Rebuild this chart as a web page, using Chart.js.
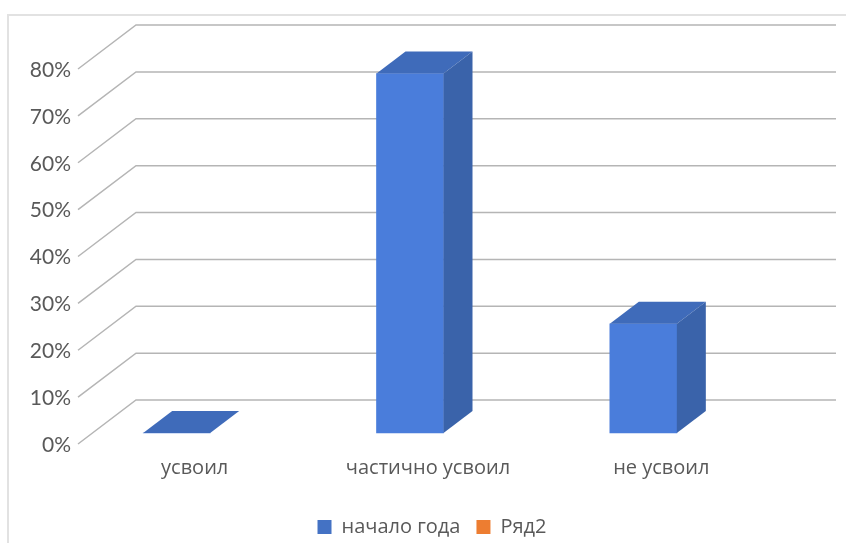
<!DOCTYPE html>
<html>
<head>
<meta charset="utf-8">
<title>Chart</title>
<script src="https://cdn.jsdelivr.net/npm/chart.js@4/dist/chart.umd.min.js"></script>
<style>
  html, body { margin: 0; padding: 0; background: #fff; }
  #wrap { position: relative; width: 846px; height: 543px; overflow: hidden; }
  #frame { position: absolute; left: 7px; top: 14px; width: 860px; height: 560px; border: 2px solid #e2e2e2; }
  canvas { position: absolute; left: 0; top: 0; }
</style>
</head>
<body>
<div id="wrap">
  <div id="frame"></div>
  <canvas id="chart" width="846" height="543"></canvas>
</div>
<script>
const categories = ["усвоил", "частично усвоил", "не усвоил"];
const nachaloGoda = [0, 76.7, 23.3];
const ryad2 = [null, null, null];
const seriesNames = ["начало года", "Ряд2"];
const legendColors = ["#4472C4", "#ED7D31"];

// 3D look: the wall sits behind the front plane, bars sit in the middle of the depth
const wallDx = 58, wallDy = 44;
const barShiftX = -18, barShiftY = -11;
const barDx = 29, barDy = 22;

const fake3d = {
  id: "fake3d",
  afterLayout(chart) {
    // legend is centred under the whole picture, not under the plot
    chart.legend.left += 43;
    chart.legend.right += 43;
    chart.legend.top += 6;
    chart.legend.bottom += 6;
  },
  beforeDatasetsDraw(chart) {
    const { ctx, chartArea, scales } = chart;
    ctx.save();
    ctx.strokeStyle = "#b5b5b5";
    ctx.lineWidth = 1.5;
    scales.y.ticks.forEach(t => {
      const y = scales.y.getPixelForValue(t.value);
      ctx.beginPath();
      ctx.moveTo(chartArea.left, y);
      ctx.lineTo(chartArea.left + wallDx, y - wallDy);
      ctx.lineTo(chartArea.right + wallDx, y - wallDy);
      ctx.stroke();
    });
    ctx.restore();
  },
  beforeDatasetDraw(chart) {
    chart.ctx.save();
    chart.ctx.translate(barShiftX, barShiftY);
  },
  afterDatasetDraw(chart, args) {
    const ctx = chart.ctx;
    args.meta.data.forEach((bar, i) => {
      if (chart.data.datasets[args.index].data[i] === null) return;
      const p = bar.getProps(["x", "y", "base", "width"], true);
      const l = p.x - p.width / 2, r = p.x + p.width / 2;
      // верх
      ctx.fillStyle = "#3F6BBA";
      ctx.beginPath();
      ctx.moveTo(l, p.y);
      ctx.lineTo(r, p.y);
      ctx.lineTo(r + barDx, p.y - barDy);
      ctx.lineTo(l + barDx, p.y - barDy);
      ctx.closePath();
      ctx.fill();
      // бок
      ctx.fillStyle = "#3A63AA";
      ctx.beginPath();
      ctx.moveTo(r, p.y);
      ctx.lineTo(r + barDx, p.y - barDy);
      ctx.lineTo(r + barDx, p.base - barDy);
      ctx.lineTo(r, p.base);
      ctx.closePath();
      ctx.fill();
    });
    ctx.restore();
  }
};

const numFont = { family: "Lato, sans-serif", size: 21 };
const textFont = { family: "'Open Sans', sans-serif", size: 20 };

new Chart(document.getElementById("chart"), {
  type: "bar",
  data: {
    labels: categories,
    datasets: [
      { label: seriesNames[0], data: nachaloGoda, backgroundColor: "#4A7DDB", barThickness: 67, grouped: false, clip: false },
      { label: seriesNames[1], data: ryad2, backgroundColor: legendColors[1], barThickness: 67, grouped: false, clip: false }
    ]
  },
  options: {
    responsive: false,
    animation: false,
    layout: { padding: { left: 0, right: 68, top: 69, bottom: 2 } },
    scales: {
      x: {
        grid: { display: false },
        border: { display: false },
        ticks: { color: "#595959", font: textFont, padding: 4, maxRotation: 0, autoSkip: false },
        afterFit: s => { s.height = 51; }
      },
      y: {
        min: 0,
        max: 80,
        grid: { display: false, drawTicks: false },
        border: { display: false },
        ticks: { color: "#595959", font: numFont, stepSize: 10, padding: 7, labelOffset: 1, callback: v => v + "%" },
        afterFit: s => { s.width = 78; }
      }
    },
    plugins: {
      tooltip: { enabled: false },
      legend: {
        position: "bottom",
        labels: {
          color: "#595959",
          font: textFont,
          boxWidth: 14,
          boxHeight: 14,
          padding: 16,
          generateLabels: chart => Chart.defaults.plugins.legend.labels.generateLabels(chart)
            .map((item, i) => Object.assign(item, { fillStyle: legendColors[i], strokeStyle: legendColors[i], lineWidth: 0 }))
        }
      }
    }
  },
  plugins: [fake3d]
});
</script>
</body>
</html>
